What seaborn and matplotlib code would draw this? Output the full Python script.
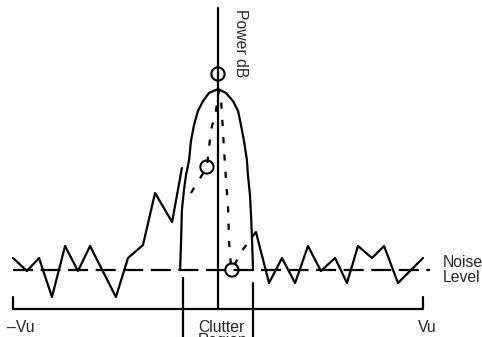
import matplotlib
matplotlib.use("Agg")
import matplotlib.pyplot as plt
import seaborn as sns

# ---- data (velocity normalised to Vu, power in dB relative to noise level) ----
noise_left_v = [-1.0, -0.932, -0.873, -0.810, -0.746, -0.683, -0.624, -0.498,
                -0.439, -0.366, -0.307, -0.224, -0.176]
noise_left_p = [2.4, -0.2, 2.4, -5.4, 4.8, -0.2, 4.8, -5.4,
                2.4, 5.0, 15.4, 9.6, 20.4]

noise_right_v = [0.166, 0.185, 0.249, 0.312, 0.376, 0.439, 0.502, 0.571,
                 0.629, 0.683, 0.751, 0.810, 0.878, 1.0]
noise_right_p = [6.6, 7.6, -2.6, 2.4, -2.6, 4.8, -0.2, 2.4,
                 -2.6, 4.8, 2.4, 4.8, -2.6, 2.4]

clutter_v = [-0.185, -0.180, -0.176, -0.166, -0.156, -0.141, -0.132, -0.117,
             -0.098, -0.073, -0.044, 0.0, 0.039, 0.073, 0.098, 0.112,
             0.127, 0.141, 0.146, 0.156, 0.161, 0.166, 0.171]
clutter_p = [0.0, 6.0, 12.0, 16.0, 19.0, 22.0, 25.8, 29.0,
             31.8, 33.8, 35.4, 36.2, 35.4, 33.8, 31.8, 29.0,
             25.8, 22.0, 19.0, 15.0, 11.0, 6.0, 0.0]

est_v = [-0.132, -0.093, -0.054, -0.044, -0.034, -0.010, 0.0, 0.005,
         0.015, 0.024, 0.029, 0.039, 0.049, 0.054, 0.063, 0.068,
         0.112, 0.146]
est_p = [15.4, 18.0, 20.6, 24.4, 28.0, 31.8, 34.8, 36.0,
         34.0, 28.0, 24.2, 18.0, 12.4, 5.6, 1.0, 0.0,
         3.6, 5.4]

circle_v = [0.0, -0.054, 0.068]
circle_p = [39.2, 20.6, 0.0]

noise_level_v = [-1.0, 1.034]
noise_level_p = [0.0, 0.0]

axis_bottom = -7.8
tick_top = -5.4
clutter_edges = [-0.171, 0.171]
clutter_tops = [-1.6, -2.6]
power_axis_top = 52.4

# ---- figure ----
sns.set_style("white")
plt.rcParams['font.family'] = ['Liberation Sans', 'DejaVu Sans']

fig = plt.figure(figsize=(4.82, 3.37), dpi=100)
ax = fig.add_axes([0, 0, 1, 1])
ax.set_xlim(-1.0634, 1.2878)
ax.set_ylim(-13.4, 54.0)
ax.axis("off")

lw = 1.6
k = "black"

sns.lineplot(x=noise_left_v, y=noise_left_p, sort=False, estimator=None,
             color=k, lw=lw, ax=ax)
sns.lineplot(x=noise_right_v, y=noise_right_p, sort=False, estimator=None,
             color=k, lw=lw, ax=ax)
sns.lineplot(x=clutter_v, y=clutter_p, sort=False, estimator=None,
             color=k, lw=lw, ax=ax)
sns.lineplot(x=est_v, y=est_p, sort=False, estimator=None,
             color=k, lw=lw, ax=ax)
ax.lines[-1].set_dashes((2.8, 5.0))
sns.lineplot(x=noise_level_v, y=noise_level_p, sort=False, estimator=None,
             color=k, lw=lw, ax=ax)
ax.lines[-1].set_dashes((9.0, 3.4))

sns.scatterplot(x=circle_v, y=circle_p, s=90, facecolor="none",
                edgecolor=k, linewidth=1.5, ax=ax, zorder=5)

# axes of the sketch
ax.plot([0, 0], [axis_bottom, power_axis_top], color=k, lw=lw)
ax.plot([noise_left_v[0], noise_left_v[0], noise_right_v[-1], noise_right_v[-1]],
        [tick_top, axis_bottom, axis_bottom, tick_top], color=k, lw=lw)
for xv, top in zip(clutter_edges, clutter_tops):
    ax.plot([xv, xv], [top, -13.4], color=k, lw=lw, clip_on=False)

fs = 11.3
ax.text(-1.029, -12.4, "\u2013Vu", fontsize=fs, ha="left", va="baseline")
ax.text(0.976, -12.4, "Vu", fontsize=fs, ha="left", va="baseline")
ax.text(-0.098, -12.4, "Clutter", fontsize=fs, ha="left", va="baseline")
ax.text(-0.098, -15.0, "Region", fontsize=fs, ha="left", va="baseline")
ax.text(1.098, 0.6, "Noise", fontsize=fs, ha="left", va="baseline")
ax.text(1.098, -2.4, "Level", fontsize=fs, ha="left", va="baseline")
ax.text(0.073, 52.2, "Power dB", fontsize=fs, rotation=-90, ha="left", va="top")

fig.savefig("out.png", dpi=100)
